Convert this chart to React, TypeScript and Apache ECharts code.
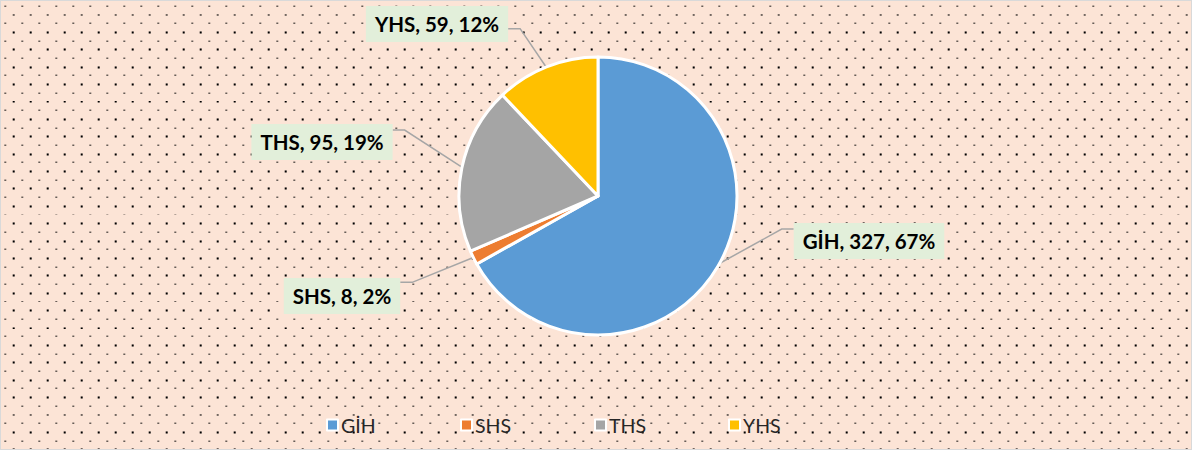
import React, { useEffect, useRef } from "react";
import * as echarts from "echarts";

const categories = ["GİH", "SHS", "THS", "YHS"];
const values = [327, 8, 95, 59];
const colors = ["#5B9BD5", "#ED7D31", "#A5A5A5", "#FFC000"];

// layout (label box centres and attach fraction), not data
const LABEL_POS = [
  [868, 240],
  [341, 295],
  [321, 141],
  [436, 23],
];
const ATTACH = [0.17, 0.12, 0.17, 0.63];
const CX = 597;
const CY = 195;
const R = 139;
const LEGEND_LEFT = 320;
const LEGEND_STEP = 134;

const tile =
  "<svg xmlns='http://www.w3.org/2000/svg' width='17' height='17.4'>" +
  "<rect x='3.3' y='4.5' width='2' height='1' fill='#000' fill-opacity='0.85'/>" +
  "<rect x='11.7' y='13' width='2' height='2' fill='#000'/>" +
  "</svg>";
const bgUrl = `url("data:image/svg+xml;utf8,${encodeURIComponent(tile)}")`;

export default function App() {
  const ref = useRef<HTMLDivElement>(null);
  useEffect(() => {
    document.body.style.margin = "0";
    if (!ref.current) return;
    const chart = echarts.init(ref.current, null, { renderer: "svg" });
    const total = values.reduce((a, b) => a + b, 0);
    const mids: number[] = [];
    let acc = 0;
    values.forEach((v) => {
      mids.push(((acc + v / 2) / total) * Math.PI * 2);
      acc += v;
    });
    chart.setOption({
      animation: false,
      backgroundColor: "transparent",
      color: colors,
      legend: categories.map((c, i) => ({
        left: LEGEND_LEFT + i * LEGEND_STEP,
        top: 409,
        itemWidth: 11,
        itemHeight: 11,
        itemGap: 0,
        icon: "rect",
        itemStyle: { borderColor: "#fff", borderWidth: 2 },
        textStyle: {
          fontFamily: "Lato",
          fontSize: 19.5,
          color: "#262626",
          padding: [0, 0, 0, -2],
        },
        data: [c],
      })),
      series: [
        {
          type: "pie",
          center: [CX, CY],
          radius: R,
          startAngle: 90,
          clockwise: true,
          percentPrecision: 0,
          itemStyle: { borderColor: "#fff", borderWidth: 3 },
          label: {
            show: true,
            position: "outside",
            formatter: "{b}, {c}, {d}%",
            fontFamily: "Lato",
            fontWeight: "bold",
            fontSize: 20.5,
            color: "#000",
            backgroundColor: "#E2EFDA",
            padding: [8, 9, 7, 9],
          },
          labelLine: {
            show: true,
            lineStyle: { color: "#A6A6A6", width: 1.5 },
          },
          labelLayout: (p: any) => {
            const i = p.dataIndex;
            const [bx, by] = LABEL_POS[i];
            const w = p.labelRect.width;
            const h = p.labelRect.height;
            const left = bx - w / 2;
            const right = bx + w / 2;
            const top = by - h / 2;
            const side = bx > CX ? 1 : -1;
            const ex = side > 0 ? left : right;
            const ey = top + ATTACH[i] * h;
            const a = mids[i];
            const sx = CX + (R - 2) * Math.sin(a);
            const sy = CY - (R - 2) * Math.cos(a);
            return {
              x: bx,
              y: by,
              align: "center",
              verticalAlign: "middle",
              labelLinePoints: [
                [sx, sy],
                [ex - side * 12, ey],
                [ex, ey],
              ],
            };
          },
          data: categories.map((c, i) => ({ name: c, value: values[i] })),
        },
      ],
    });
    return () => chart.dispose();
  }, []);
  return (
    <div
      style={{
        width: 1190,
        height: 448,
        border: "1px solid #D9D9D9",
        backgroundColor: "#FCE4D6",
        backgroundImage: bgUrl,
        backgroundSize: "17px 17.4px",
      }}
    >
      <div ref={ref} style={{ width: 1190, height: 448 }} />
    </div>
  );
}
